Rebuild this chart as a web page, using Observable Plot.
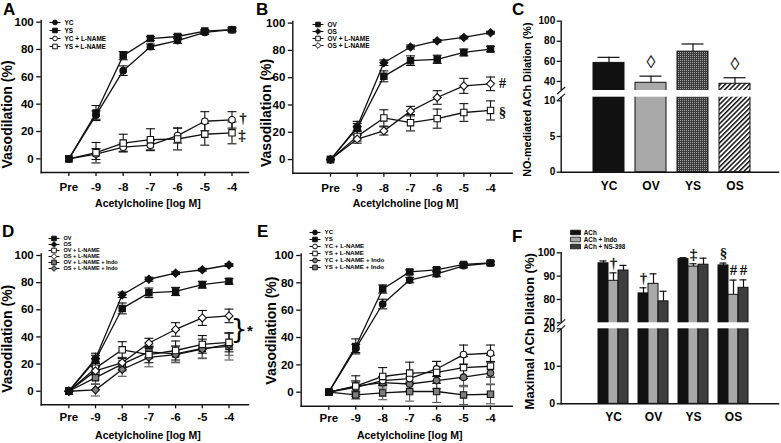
<!DOCTYPE html>
<html><head><meta charset="utf-8">
<script src="https://cdn.jsdelivr.net/npm/d3@7"></script>
<script src="https://cdn.jsdelivr.net/npm/@observablehq/plot@0.6"></script>
<style>
body{margin:0;background:#fff}
#root{position:relative;width:781px;height:443px;overflow:hidden;background:#fff;font-family:"Liberation Sans",Arial,sans-serif}
.lbl{position:absolute;font-weight:bold;font-size:17px;line-height:17px;color:#000}
</style></head><body><div id="root"></div>
<script>
// ---------------- DATA ----------------
const doses = ["Pre","-9","-8","-7","-6","-5","-4"];
// young groups (panels A, E)
const ycMean   = [0, 32, 64.5, 82, 86.5, 92.5, 94.5];
const ycErr    = [0, 3, 3.5, 2, 2, 1.5, 1];
const ysMean   = [0, 33.5, 75.5, 88, 89.5, 93.5, 94.5];
const ysErr    = [0, 5.5, 3, 1.5, 1.5, 1, 1.5];
const ycLMean  = [0, 3.5, 8.5, 10, 17, 27.5, 28.5];
const ycLErr   = [0, 4, 3, 3.5, 5.5, 7, 6];
const ysLMean  = [0, 4.5, 11.5, 14, 14.5, 18, 19];
const ysLErr   = [0, 7.5, 6.5, 8, 8, 8, 8];
const ycLIMean = [0, 4.5, 7, 6, 8.5, 11, 14];
const ycLIErr  = [0, 4, 4, 5, 6, 7, 8];
const ysLIMean = [0, -2, -0.5, 0.5, 0.5, -2, -1.5];
const ysLIErr  = [0, 3, 5, 7, 8, 7, 7];
// old groups (panels B, D)
const ovMean   = [0, 23, 61, 72.5, 73.5, 78.5, 81];
const ovErr    = [0, 5, 4, 3.5, 3, 2.5, 2];
const osMean   = [0, 24, 71, 82.5, 87, 89.5, 93];
const osErr    = [0, 2.5, 2, 1.5, 1, 1, 1];
const ovLMean  = [0, 17, 30.5, 27, 30, 34.5, 36];
const ovLErr   = [0, 3.5, 6, 6, 7, 6.5, 7];
const osLMean  = [0, 15, 21, 35.5, 45.5, 54, 55.5];
const osLErr   = [0, 3, 3, 3.5, 5, 5.5, 5];
const ovLIMean = [0, 10, 20, 29, 27.5, 31.5, 33];
const ovLIErr  = [0, 5, 5, 5, 6, 7, 10];
const osLIMean = [0, 1, 16, 25, 27, 31, 34.5];
const osLIErr  = [0, 4.5, 5, 7, 6, 7, 8];
// panel C
const noGroups = ["YC","OV","YS","OS"];
const noMean   = [58.5, 38.7, 69.7, 37.7];
const noErr    = [5.5, 6.6, 7.6, 6];
const noMarked = ["OV","OS"];
// panel F
const fGroups     = ["YC","OV","YS","OS"];
const fTreatments = ["ACh","ACh + Indo","ACh + NS-398"];
const fAChMean  = [95.5, 82.6, 97.3, 94.6];
const fAChErr   = [1, 2.4, 0.6, 1];
const fIndoMean = [88, 86.7, 94.1, 82];
const fIndoErr  = [3.4, 4.3, 1.2, 6.3];
const fNSMean   = [92.4, 79.2, 94.9, 85];
const fNSErr    = [2.2, 4.3, 2.8, 3.4];
const fMarks = [
  {g:"YC", t:"ACh + Indo", s:"†"},
  {g:"OV", t:"ACh", s:"†"},
  {g:"YS", t:"ACh + Indo", s:"‡"},
  {g:"OS", t:"ACh", s:"§"},
  {g:"OS", t:"ACh + Indo", s:"#"},
  {g:"OS", t:"ACh + NS-398", s:"#"}
];

const seriesData = {
  "YC": [ycMean, ycErr], "YS": [ysMean, ysErr],
  "YC + L-NAME": [ycLMean, ycLErr], "YS + L-NAME": [ysLMean, ysLErr],
  "YC + L-NAME + Indo": [ycLIMean, ycLIErr], "YS + L-NAME + Indo": [ysLIMean, ysLIErr],
  "OV": [ovMean, ovErr], "OS": [osMean, osErr],
  "OV + L-NAME": [ovLMean, ovLErr], "OS + L-NAME": [osLMean, osLErr],
  "OV + L-NAME + Indo": [ovLIMean, ovLIErr], "OS + L-NAME + Indo": [osLIMean, osLIErr]
};

// ---------------- STYLES ----------------
const FONT = '"Liberation Sans", Arial, sans-serif';
const SERIF = '"Liberation Serif", "DejaVu Serif", serif';
const INK = "#111";
const GRAY = "#7d7d7d";
const styles = {
  "YC": {symbol:"circle", fill:INK}, "YS": {symbol:"square", fill:INK},
  "YC + L-NAME": {symbol:"circle", fill:"white"}, "YS + L-NAME": {symbol:"square", fill:"white"},
  "YC + L-NAME + Indo": {symbol:"circle", fill:GRAY, err:"#555"}, "YS + L-NAME + Indo": {symbol:"square", fill:GRAY, err:"#555"},
  "OV": {symbol:"square", fill:INK}, "OS": {symbol:"diamond2", fill:INK},
  "OV + L-NAME": {symbol:"square", fill:"white"}, "OS + L-NAME": {symbol:"diamond2", fill:"white"},
  "OV + L-NAME + Indo": {symbol:"square", fill:GRAY, err:"#555"}, "OS + L-NAME + Indo": {symbol:"diamond2", fill:GRAY, err:"#555"}
};
const R = {circle:3.3, square:3.6, diamond2:3.6};
const capSym   = {draw(ctx){ ctx.moveTo(-4.5,0); ctx.lineTo(4.5,0); }};
const legLine  = {draw(ctx){ ctx.moveTo(-5.5,0); ctx.lineTo(5.5,0); }};
const slashSym = {draw(ctx){ ctx.moveTo(-4,3.5); ctx.lineTo(4,-3.5); }};
const boxSym   = {draw(ctx){ ctx.rect(-5,-2.3,10,4.6); }};
const svgStyle = {fontFamily: FONT, fontWeight: "bold", fontSize: "11px", background: "transparent", overflow: "visible"};

const root = document.getElementById("root");
function place(el, left, top){ el.style.position="absolute"; el.style.left=left+"px"; el.style.top=top+"px"; root.appendChild(el); }

// ---------------- LINE PANELS ----------------
function linePanel(c){
  const all = c.series.map(name => ({name, st: styles[name],
    rows: seriesData[name][0].map((v,i)=>({i, v, e: seriesData[name][1][i]}))}));
  const marks = [
    Plot.frame({anchor:"left", stroke:INK, strokeWidth:1.4}),
    Plot.frame({anchor:"bottom", stroke:INK, strokeWidth:1.4})
  ];
  for (const s of all) marks.push(Plot.line(s.rows, {x:"i", y:"v", stroke:INK, strokeWidth:1.3}));
  for (const s of all){
    const er = s.rows.filter(d=>d.e>0), col = s.st.err || INK;
    marks.push(Plot.ruleX(er, {x:"i", y1:d=>d.v-d.e, y2:d=>d.v+d.e, stroke:col, strokeWidth:1.1}));
    marks.push(Plot.dot(er, {x:"i", y:d=>d.v-d.e, symbol:capSym, fill:"none", stroke:col, strokeWidth:1.1}));
    marks.push(Plot.dot(er, {x:"i", y:d=>d.v+d.e, symbol:capSym, fill:"none", stroke:col, strokeWidth:1.1}));
  }
  for (const s of all) marks.push(Plot.dot(s.rows, {x:"i", y:"v", symbol:s.st.symbol, r:R[s.st.symbol], fill:s.st.fill, stroke:INK, strokeWidth:1.1}));
  for (const a of (c.ann||[])){
    const m = seriesData[a.name][0], last = m.length-1;
    marks.push(Plot.text([{i:last, v:m[last]}], {x:"i", y:"v", text:()=>a.s, dx:a.dx||11, dy:a.dy||0, fill:INK, opacity:0.99, fontFamily:SERIF, fontWeight:"bold", fontSize:a.fs||15}));
  }
  if (c.extra) marks.push(...c.extra);
  marks.push(
    Plot.axisY({ticks:[0,20,40,60,80,100], tickSize:4.5, tickPadding:3, fontSize:11.5, label:null, stroke:INK, strokeWidth:1.3}),
    Plot.axisX({ticks:d3.range(doses.length), tickFormat:i=>doses[i], tickSize:4, tickPadding:c.tp, fontSize:11.5, label:null, stroke:INK, strokeWidth:1.3}),
    Plot.text(["Vasodilation (%)"], {text:d=>d, frameAnchor:"left", textAnchor:"middle", lineAnchor:"middle", rotate:-90, dx:c.ytdx, dy:c.ytdy, fontSize:14}),
    Plot.text(["Acetylcholine [log M]"], {text:d=>d, frameAnchor:"bottom", textAnchor:"middle", lineAnchor:"middle", dy:c.xtdy, dx:3, fontSize:10.5})
  );
  const svg = Plot.plot({
    width:c.w, height:c.h, marginLeft:c.ml, marginRight:c.mr, marginTop:c.mt, marginBottom:c.mb,
    x:{type:"linear", domain:c.xdom, axis:null},
    y:{type:"linear", domain:c.ydom, axis:null},
    style:svgStyle, marks
  });
  place(svg, c.left, c.top);
}

function lineLegend(names, c){
  const marks = [Plot.dot(names, {y:d=>d, frameAnchor:"left", dx:5.5, symbol:legLine, fill:"none", stroke:INK, strokeWidth:1.1})];
  for (const n of names){
    const st = styles[n];
    marks.push(Plot.dot([n], {y:d=>d, frameAnchor:"left", dx:5.5, symbol:st.symbol, r:R[st.symbol]*0.72, fill:st.fill, stroke:INK, strokeWidth:1}));
  }
  marks.push(Plot.text(names, {y:d=>d, text:d=>d, frameAnchor:"left", dx:15, textAnchor:"start", fontSize:c.fs}));
  const svg = Plot.plot({width:90, height:names.length*c.row, margin:0,
    y:{type:"point", domain:names, padding:0.5, axis:null}, style:svgStyle, marks});
  place(svg, c.left, c.top);
}

// Panel A
linePanel({left:0, top:0, w:255, h:215, ml:40.7, mr:7, mt:20, mb:43,
  xdom:[-1.015, 6.607], ydom:[-10, 101.2], tp:6.5, ytdx:-33.7, ytdy:18, xtdy:31,
  series:["YC + L-NAME","YS + L-NAME","YC","YS"],
  ann:[{name:"YC + L-NAME", s:"†", dx:11, dy:-2}, {name:"YS + L-NAME", s:"‡", dx:10, dy:2}]});
lineLegend(["YC","YS","YC + L-NAME","YS + L-NAME"], {left:49.3, top:16.5, row:8.4, fs:6.5});

// Panel B
linePanel({left:255, top:0, w:265, h:215, ml:37.3, mr:8.3, mt:21, mb:42.3,
  xdom:[-1.414, 6.813], ydom:[-10, 101.2], tp:7, ytdx:-26.5, ytdy:15.6, xtdy:30.6,
  series:["OV + L-NAME","OS + L-NAME","OV","OS"],
  ann:[{name:"OS + L-NAME", s:"#", dx:12, dy:0, fs:14}, {name:"OV + L-NAME", s:"§", dx:12, dy:2}]});
lineLegend(["OV","OS","OV + L-NAME","OS + L-NAME"], {left:311.7, top:19.4, row:7.8, fs:6.5});

// Panel D
const bracketRows = [{i:6, v:(osLMean[6]+ovLMean[6])/2}];
linePanel({left:0, top:215, w:255, h:228, ml:40.7, mr:7, mt:38.5, mb:38.7,
  xdom:[-1.034, 6.73], ydom:[-10, 101.1], tp:4.5, ytdx:-33.2, ytdy:9.4, xtdy:30.7,
  series:["OV + L-NAME + Indo","OS + L-NAME + Indo","OV + L-NAME","OS + L-NAME","OV","OS"],
  extra:[
    Plot.text(bracketRows, {x:"i", y:"v", text:()=>"}", dx:10, opacity:0.99, fontFamily:'"DejaVu Sans", sans-serif', fontWeight:"normal", fontSize:27}),
    Plot.text(bracketRows, {x:"i", y:"v", text:()=>"*", dx:21, dy:2, fontSize:15})
  ]});
lineLegend(["OV","OS","OV + L-NAME","OS + L-NAME","OV + L-NAME + Indo","OS + L-NAME + Indo"], {left:48, top:235, row:6.1, fs:5.6});

// Panel E
linePanel({left:255, top:215, w:265, h:228, ml:45.7, mr:8.3, mt:38.5, mb:37.3,
  xdom:[-1.024, 6.805], ydom:[-10.24, 101.1], tp:3.5, ytdx:-29.2, ytdy:0.5, xtdy:29.3,
  series:["YC + L-NAME + Indo","YS + L-NAME + Indo","YC + L-NAME","YS + L-NAME","YC","YS"]});
lineLegend(["YC","YS","YC + L-NAME","YS + L-NAME","YC + L-NAME + Indo","YS + L-NAME + Indo"], {left:309.3, top:228.4, row:7.2, fs:6.2});

// ---------------- BAR PANELS ----------------
const defs = `<defs>
<pattern id="chk" width="2" height="2" patternUnits="userSpaceOnUse"><rect width="2" height="2" fill="#3c3c3c"/><rect width="1" height="1" fill="#a0a0a0"/></pattern>
<pattern id="hatch" width="3.4" height="3.4" patternUnits="userSpaceOnUse" patternTransform="rotate(45)"><rect width="3.4" height="3.4" fill="white"/><rect width="1.5" height="3.4" fill="#111"/></pattern>
</defs>`;
const noFill = {YC:INK, OV:"#a9a9a9", YS:"url(#chk)", OS:"url(#hatch)"};

(function panelC(){
  const rows = noGroups.map((g,i)=>({g, v:noMean[i], e:noErr[i]}));
  const marks = [
    Plot.frame({anchor:"left", stroke:INK, strokeWidth:1.4}),
    Plot.frame({anchor:"bottom", stroke:INK, strokeWidth:1.4})
  ];
  for (const r of rows) marks.push(Plot.barY([r], {x:"g", y:"v", fill:noFill[r.g], stroke:INK, strokeWidth:1}));
  marks.push(
    Plot.ruleX(rows, {x:"g", y1:"v", y2:d=>d.v+d.e, stroke:INK, strokeWidth:1.2}),
    Plot.tickY(rows, {x:"g", y:d=>d.v+d.e, insetLeft:4.5, insetRight:4.5, stroke:INK, strokeWidth:1.2}),
    Plot.rect([0], {y1:10.5, y2:31, fill:"white", insetLeft:-1.5}),
    Plot.dot([10.5, 31], {y:d=>d, frameAnchor:"left", symbol:slashSym, fill:"none", stroke:INK, strokeWidth:1.1}),
    Plot.text(rows.filter(d=>noMarked.includes(d.g)), {x:"g", y:d=>d.v+d.e, text:()=>"◊", dy:-14, fill:INK, opacity:0.99, fontFamily:SERIF, fontWeight:"normal", fontSize:18}),
    Plot.axisY({ticks:[0,5,10,40,60,80,100], tickSize:4, tickPadding:2, fontSize:10, label:null, stroke:INK, strokeWidth:1.3}),
    Plot.axisX({tickSize:0, tickPadding:9, fontSize:12, label:null}),
    Plot.text(["NO-mediated ACh Dilation (%)"], {text:d=>d, frameAnchor:"left", textAnchor:"middle", lineAnchor:"middle", rotate:-90, dx:-33.2, dy:3, fontSize:10.8})
  );
  const svg = Plot.plot({width:261, height:215, marginLeft:40.7, marginRight:3, marginTop:20.7, marginBottom:43.3,
    x:{type:"band", domain:noGroups, paddingInner:0.256, paddingOuter:0.655, align:0.53, axis:null},
    y:{type:"linear", domain:[0,10.5,31,100], range:[171.7,96.7,90,20.7], axis:null},
    style:svgStyle, marks});
  svg.insertAdjacentHTML("afterbegin", defs);
  place(svg, 520, 0);
})();

(function panelF(){
  const means = {"ACh":fAChMean, "ACh + Indo":fIndoMean, "ACh + NS-398":fNSMean};
  const errs  = {"ACh":fAChErr, "ACh + Indo":fIndoErr, "ACh + NS-398":fNSErr};
  const fFill = {"ACh":INK, "ACh + Indo":"#a9a9a9", "ACh + NS-398":"#3d3d3d"};
  const key = (g,t)=>g+"|"+t;
  const domain = [];
  fGroups.forEach((g,gi)=>{ if (gi) domain.push(" ".repeat(gi)); fTreatments.forEach(t=>domain.push(key(g,t))); });
  const rows = [];
  fGroups.forEach((g,gi)=>fTreatments.forEach(t=>rows.push({k:key(g,t), g, t, v:means[t][gi], e:errs[t][gi]})));
  const marks = [
    Plot.frame({anchor:"left", stroke:INK, strokeWidth:1.4}),
    Plot.frame({anchor:"bottom", stroke:INK, strokeWidth:1.4})
  ];
  for (const t of fTreatments) marks.push(Plot.barY(rows.filter(d=>d.t===t), {x:"k", y:"v", fill:fFill[t], stroke:INK, strokeWidth:1}));
  marks.push(
    Plot.ruleX(rows, {x:"k", y1:"v", y2:d=>d.v+d.e, stroke:INK, strokeWidth:1.2}),
    Plot.tickY(rows, {x:"k", y:d=>d.v+d.e, insetLeft:1.5, insetRight:1.5, stroke:INK, strokeWidth:1.2}),
    Plot.rect([0], {y1:20, y2:70, fill:"white", insetLeft:-1.5}),
    Plot.dot([20, 70], {y:d=>d, frameAnchor:"left", symbol:slashSym, fill:"none", stroke:INK, strokeWidth:1.1}),
    Plot.text(fMarks.map(m=>rows.find(r=>r.g===m.g && r.t===m.t)), {x:"k", y:d=>d.v+d.e, text:(d,i)=>fMarks[i].s, dy:-10, fill:INK, opacity:0.99, fontFamily:SERIF, fontWeight:"bold", fontSize:15}),
    Plot.axisY({ticks:[0,10,20,70,80,90,100], tickSize:4, tickPadding:2, fontSize:10.5, label:null, stroke:INK, strokeWidth:1.3}),
    Plot.axisX({ticks:fGroups.map(g=>key(g,"ACh + Indo")), tickFormat:k=>k.split("|")[0], tickSize:0, tickPadding:9, fontSize:12, label:null}),
    Plot.text(["Maximal ACh Dilation (%)"], {text:d=>d, frameAnchor:"left", textAnchor:"middle", lineAnchor:"middle", rotate:-90, dx:-31.4, dy:3, fontSize:13})
  );
  const svg = Plot.plot({width:261, height:228, marginLeft:40.7, marginRight:3, marginTop:37.3, marginBottom:39.7,
    x:{type:"band", domain, paddingInner:0, paddingOuter:2.47, align:0.56, axis:null},
    y:{type:"linear", domain:[0,20,70,100], range:[188.3,113.3,107.3,37.3], axis:null},
    style:svgStyle, marks});
  place(svg, 520, 215);

  // legend
  const lmarks = [];
  for (const t of fTreatments) lmarks.push(Plot.dot([t], {y:d=>d, frameAnchor:"left", dx:5, symbol:boxSym, fill:fFill[t], stroke:INK, strokeWidth:0.8}));
  lmarks.push(Plot.text(fTreatments, {y:d=>d, text:d=>d, frameAnchor:"left", dx:13.3, textAnchor:"start", fontSize:6.3}));
  const leg = Plot.plot({width:80, height:fTreatments.length*7.65, margin:0,
    y:{type:"point", domain:fTreatments, padding:0.5, axis:null}, style:svgStyle, marks:lmarks});
  place(leg, 570, 227.9);
})();

// ---------------- PANEL LETTERS ----------------
const letters = ["A","B","C","D","E","F"];
const letterPos = [[3,1],[256,1],[512,1],[2,223],[257,223],[512,228]];
letters.forEach((L,i)=>{ const d=document.createElement("div"); d.className="lbl"; d.textContent=L;
  d.style.left=letterPos[i][0]+"px"; d.style.top=letterPos[i][1]+"px"; root.appendChild(d); });
</script></body></html>
